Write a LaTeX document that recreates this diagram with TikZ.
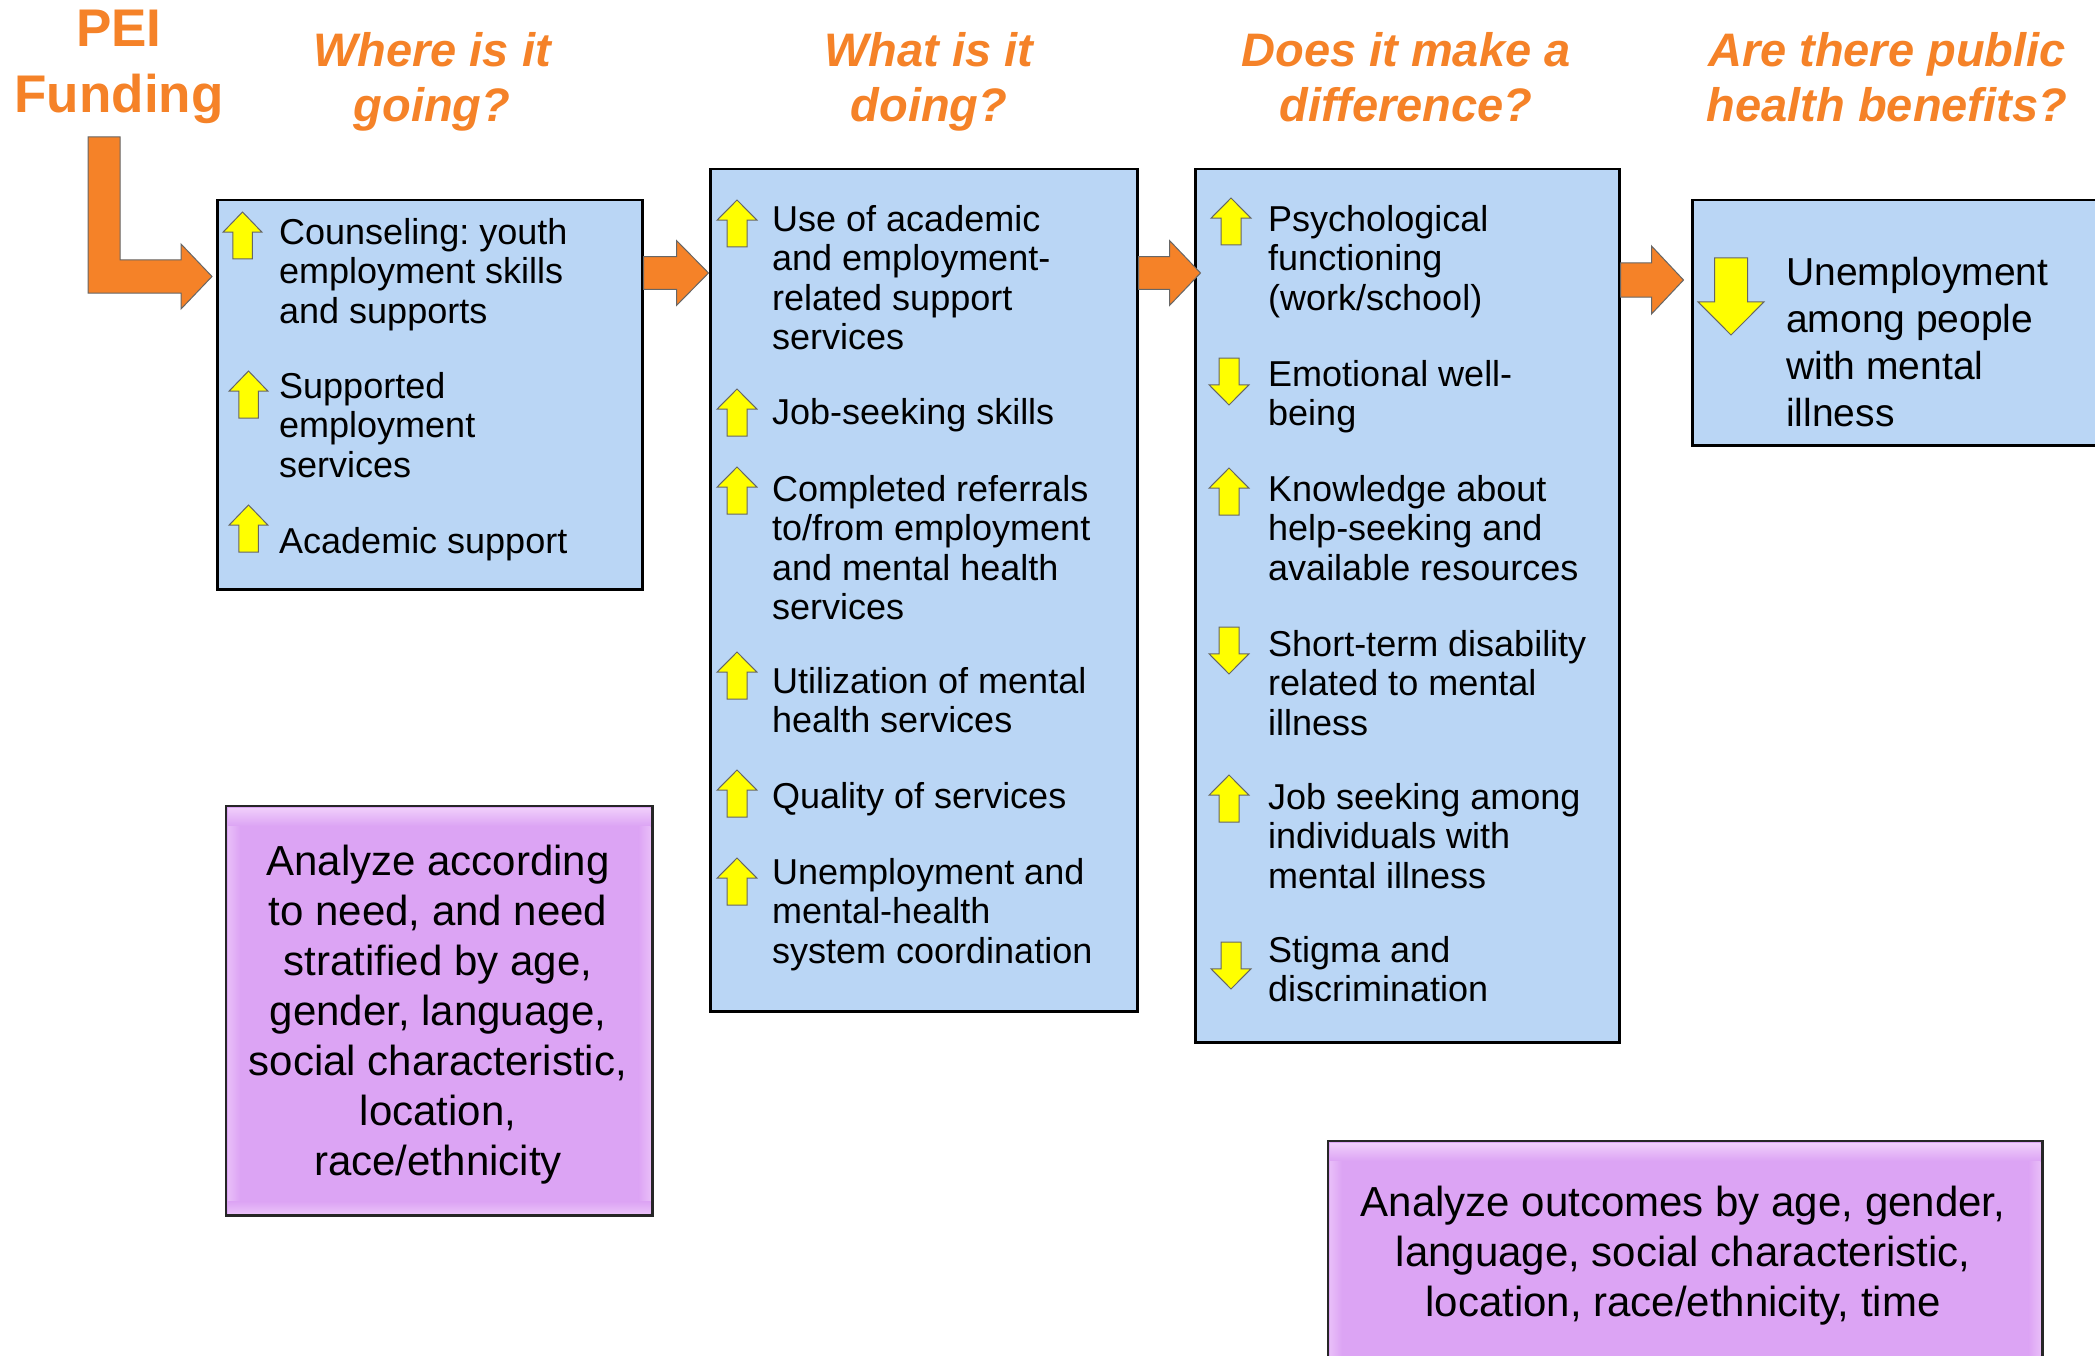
\documentclass[tikz,border=0pt]{standalone}
\usepackage{fontspec}
\setmainfont{Liberation Sans}
\frenchspacing
\usetikzlibrary{calc}
\definecolor{orng}{RGB}{245,130,40}
\definecolor{boxblue}{RGB}{186,214,245}
\definecolor{purp}{RGB}{220,164,244}
\definecolor{purplight}{RGB}{240,206,251}
\definecolor{yel}{RGB}{255,255,0}
\newcommand\FL[1]{\rule{0pt}{#1pt}}
\newcommand\YUp[4]{\filldraw[yarr] (#1+#3/2,#2) -- (#1+#3,#2+0.43*#4) -- (#1+0.75*#3,#2+0.43*#4) -- (#1+0.75*#3,#2+#4) -- (#1+0.25*#3,#2+#4) -- (#1+0.25*#3,#2+0.43*#4) -- (#1,#2+0.43*#4) -- cycle;}
\newcommand\YDn[4]{\filldraw[yarr] (#1+#3/2,#2+#4) -- (#1+#3,#2+0.57*#4) -- (#1+0.75*#3,#2+0.57*#4) -- (#1+0.75*#3,#2) -- (#1+0.25*#3,#2) -- (#1+0.25*#3,#2+0.57*#4) -- (#1,#2+0.57*#4) -- cycle;}
\newcommand\OArr[4]{\filldraw[oarr] (#1) ++(0,-#4/4) -- ++(#2,0) -- ++(0,-#4/4) -- ++(#3,#4/2) -- ++(-#3,#4/2) -- ++(0,-#4/4) -- ++(-#2,0) -- cycle;}
\newcommand\Bevel[1]{%
  \shade[top color=purplight, bottom color=purp] ($(#1.north west)+(2,2)$) rectangle ($(#1.north east)+(-2,20)$);
  \shade[left color=purplight!60!purp, right color=purp] ($(#1.north west)+(2,20)$) rectangle ($(#1.south west)+(14,-14)$);
  \shade[right color=purplight!60!purp, left color=purp] ($(#1.north east)+(-14,20)$) rectangle ($(#1.south east)+(-2,-14)$);
  \shade[bottom color=purplight!70!purp, top color=purp] ($(#1.south west)+(2,-14)$) rectangle ($(#1.south east)+(-2,-2)$);
  \draw[draw=black!85, line width=2.5pt] (#1.north west) rectangle (#1.south east);}
\tikzset{
  bluebox/.style={draw=black, line width=2.5pt, fill=boxblue, inner sep=0pt, anchor=north west},
  purpbox/.style={fill=purp, inner sep=0pt, anchor=north west},
  item/.style={anchor=north west, inner sep=0pt, align=left, font=\fontsize{36}{39.5}\selectfont},
  bigitem/.style={anchor=north west, inner sep=0pt, align=left, font=\fontsize{39}{47}\selectfont},
  ptext/.style={anchor=north, inner sep=0pt, align=center, font=\fontsize{42}{50}\selectfont},
  head/.style={anchor=north, inner sep=0pt, align=center, text=orng, font=\fontsize{47}{55}\selectfont\bfseries\itshape},
  yarr/.style={fill=yel, draw=black!60, line width=1pt, line join=miter},
  oarr/.style={fill=orng, draw=black!60, line width=1pt, line join=miter},
}
\begin{document}
\begin{tikzpicture}[x=1pt,y=-1pt]
\useasboundingbox (0,0) rectangle (2095,1356);
\clip (0,0) rectangle (2095,1356);
\fill[white] (0,0) rectangle (2095,1356);

% headings
\node[anchor=north, inner sep=0pt, align=center, text=orng, font=\fontsize{53}{66}\selectfont\bfseries] (pei) at (119,1) {\FL{45}PEI\\Funding};
\node[head] (h1) at (432,26) {\FL{40}Where is it\\going?};
\node[head] (h2) at (929,26) {\FL{40}What is it\\doing?};
\node[head] (h3) at (1406,26) {\FL{40}Does it make a\\difference?};
\node[head] (h4) at (1887,26) {\FL{40}Are there public\\health benefits?};

% boxes
\node[bluebox, minimum width=425pt, minimum height=389pt] (b1) at (216,199) {};
\node[bluebox, minimum width=427pt, minimum height=842pt] (b2) at (709,168) {};
\node[bluebox, minimum width=424pt, minimum height=873pt] (b3) at (1194,168) {};
\node[bluebox, minimum width=440pt, minimum height=245pt] (b4) at (1691,199) {};

% purple boxes
\node[purpbox, minimum width=426pt, minimum height=409pt] (p1) at (226,806) {};
\Bevel{p1}
\node[purpbox, minimum width=714pt, minimum height=240pt] (p2) at (1328,1141) {};
\Bevel{p2}
\node[ptext] (p1t) at (438,840) {\FL{35}Analyze according\\to need, and need\\stratified by age,\\gender, language,\\social characteristic,\\location,\\race/ethnicity};
\node[ptext] (p2t) at (1683,1181) {\FL{35}Analyze outcomes by age, gender,\\language, social characteristic,\\location, race/ethnicity, time};

% PEI bent arrow
\coordinate (peitop) at (88,137);
\filldraw[oarr] (peitop) -- ++(32,0) -- ++(0,123) -- ++(61,0) -- ++(0,-16) -- ++(31,32.5) -- ++(-31,32.5) -- ++(0,-16) -- ++(-93,0) -- cycle;

% orange connectors
\coordinate (s12) at (b1.east |- 0,273);
\coordinate (s23) at (b2.east |- 0,273);
\coordinate (s34) at (b3.east |- 0,280);
\OArr{s12}{33}{32}{65}
\OArr{s23}{31}{31}{65}
\OArr{s34}{31}{32}{68}

% box 1
\YUp{223}{212}{39}{47}
\YUp{229}{371}{39}{47}
\YUp{229}{505}{39}{47}
\node[item] (i11) at (279,214) {\FL{30}Counseling: youth\\employment skills\\and supports};
\node[item] (i12) at (279,368) {\FL{30}Supported\\employment\\services};
\node[item] (i13) at (279,523) {\FL{30}Academic support};

% box 2
\YUp{717}{200}{40}{47}
\YUp{717}{389}{40}{47}
\YUp{717}{467}{40}{47}
\YUp{717}{652}{40}{47}
\YUp{717}{770}{40}{47}
\YUp{717}{858}{40}{47}
\node[item] (i21) at (772,201) {\FL{30}Use of academic\\and employment-\\related support\\services};
\node[item] (i22) at (772,394) {\FL{30}Job-seeking skills};
\node[item] (i23) at (772,471) {\FL{30}Completed referrals\\to/from employment\\and mental health\\services};
\node[item] (i24) at (772,663) {\FL{30}Utilization of mental\\health services};
\node[item] (i25) at (772,778) {\FL{30}Quality of services};
\node[item] (i26) at (772,854) {\FL{30}Unemployment and\\mental-health\\system coordination};

% box 3
\YUp{1211}{198}{40}{47}
\YDn{1209}{358}{40}{47}
\YUp{1209}{468}{40}{47}
\YDn{1209}{627}{40}{47}
\YUp{1209}{775}{40}{47}
\YDn{1211}{942}{40}{47}
\node[item] (i31) at (1268,201) {\FL{30}Psychological\\functioning\\(work/school)};
\node[item] (i32) at (1268,356) {\FL{30}Emotional well-\\being};
\node[item] (i33) at (1268,471) {\FL{30}Knowledge about\\help-seeking and\\available resources};
\node[item] (i34) at (1268,626) {\FL{30}Short-term disability\\related to mental\\illness};
\node[item] (i35) at (1268,779) {\FL{30}Job seeking among\\individuals with\\mental illness};
\node[item] (i36) at (1268,932) {\FL{30}Stigma and\\discrimination};

% box 4
\YDn{1698}{258}{66}{77}
\node[bigitem] (i41) at (1786,253) {\FL{32}Unemployment\\among people\\with mental\\illness};
\end{tikzpicture}
\end{document}
